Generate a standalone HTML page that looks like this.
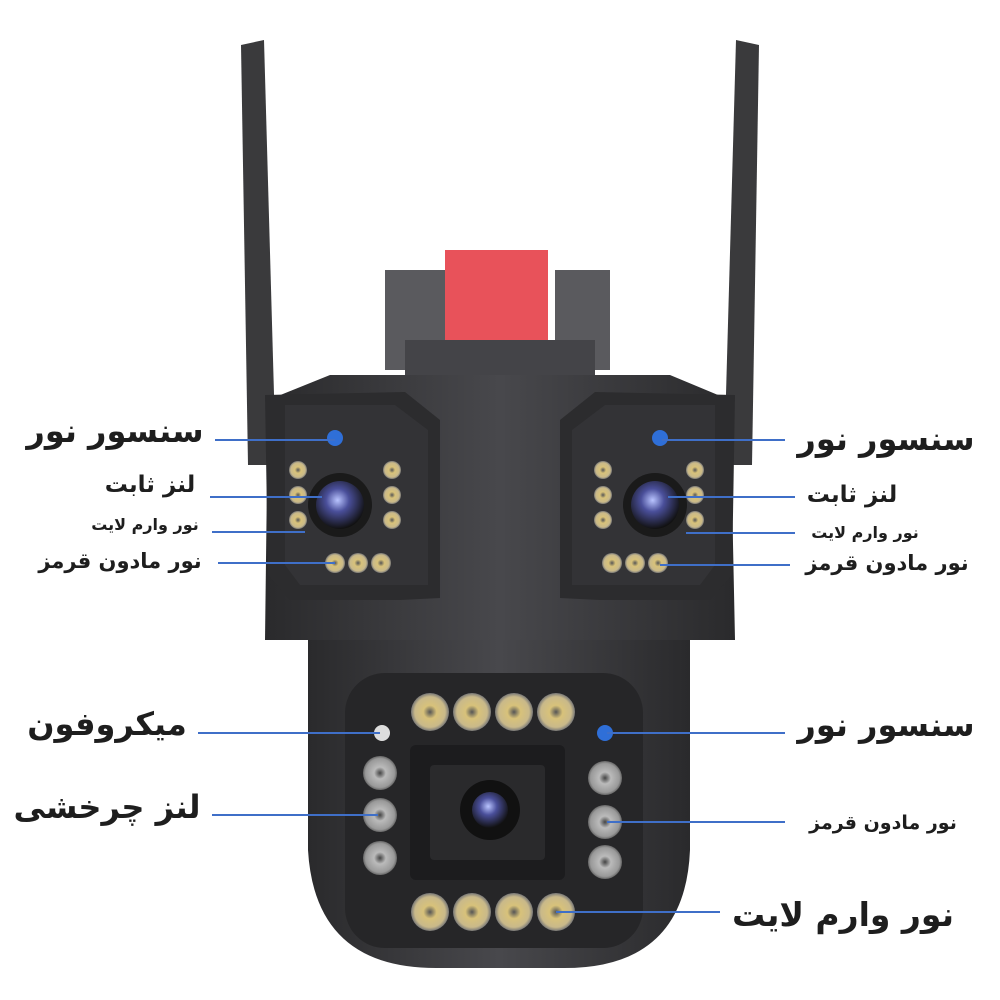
<!DOCTYPE html>
<html><head><meta charset="utf-8"><style>
html,body{margin:0;padding:0;background:#fff;width:1000px;height:1000px;overflow:hidden}
svg{display:block}
text{font-family:"DejaVu Sans","Liberation Sans",sans-serif;font-weight:bold;fill:#1e1e1e}
</style></head><body>
<svg width="1000" height="1000" viewBox="0 0 1000 1000" xmlns="http://www.w3.org/2000/svg">
<defs>
<radialGradient id="lens" cx="45%" cy="40%" r="60%"><stop offset="0" stop-color="#b9c4ff"/><stop offset="0.4" stop-color="#4a4f9a"/><stop offset="1" stop-color="#111"/></radialGradient>
<radialGradient id="yl" cx="50%" cy="50%" r="50%"><stop offset="0" stop-color="#555"/><stop offset="0.35" stop-color="#d8c27a"/><stop offset="0.8" stop-color="#c9b98a"/><stop offset="1" stop-color="#777"/></radialGradient>
<radialGradient id="gl" cx="50%" cy="50%" r="50%"><stop offset="0" stop-color="#444"/><stop offset="0.35" stop-color="#bbb"/><stop offset="0.85" stop-color="#999"/><stop offset="1" stop-color="#666"/></radialGradient>
<linearGradient id="body" x1="0" x2="1"><stop offset="0" stop-color="#2a2a2c"/><stop offset="0.5" stop-color="#48484c"/><stop offset="1" stop-color="#2a2a2c"/></linearGradient>
</defs>
<!-- antennas -->
<polygon points="241,45 264,40 276,465 248,465" fill="#3a3a3c"/>
<polygon points="736,40 759,45 752,465 724,465" fill="#3a3a3c"/>
<!-- brackets -->
<rect x="385" y="270" width="60" height="100" fill="#5a5a5e"/>
<rect x="555" y="270" width="55" height="100" fill="#5a5a5e"/>
<rect x="445" y="250" width="103" height="110" fill="#e8525a"/>
<rect x="405" y="340" width="190" height="40" fill="#444448"/>
<!-- upper housing -->
<polygon points="330,375 670,375 730,400 735,640 265,640 268,400" fill="url(#body)"/>
<polygon points="265,395 405,392 440,420 440,598 400,600 290,600 268,575" fill="#2c2c2e"/>
<polygon points="595,392 735,395 732,575 710,600 600,600 560,598 560,420" fill="#2c2c2e"/>
<polygon points="285,405 395,405 428,430 428,585 300,585 285,565" fill="#333336"/>
<polygon points="605,405 715,405 715,565 700,585 572,585 572,430" fill="#333336"/>
<circle cx="340" cy="505" r="32" fill="#1a1a1a"/><circle cx="340" cy="505" r="24" fill="url(#lens)"/>
<circle cx="335" cy="438" r="8" fill="#2f6fd8"/>
<circle cx="660" cy="438" r="8" fill="#2f6fd8"/>
<circle cx="655" cy="505" r="32" fill="#1a1a1a"/><circle cx="655" cy="505" r="24" fill="url(#lens)"/>
<g fill="url(#yl)">
<circle cx="298" cy="470" r="9"/><circle cx="298" cy="495" r="9"/><circle cx="298" cy="520" r="9"/>
<circle cx="392" cy="470" r="9"/><circle cx="392" cy="495" r="9"/><circle cx="392" cy="520" r="9"/>
<circle cx="335" cy="563" r="10"/><circle cx="358" cy="563" r="10"/><circle cx="381" cy="563" r="10"/>
<circle cx="603" cy="470" r="9"/><circle cx="603" cy="495" r="9"/><circle cx="603" cy="520" r="9"/>
<circle cx="695" cy="470" r="9"/><circle cx="695" cy="495" r="9"/><circle cx="695" cy="520" r="9"/>
<circle cx="612" cy="563" r="10"/><circle cx="635" cy="563" r="10"/><circle cx="658" cy="563" r="10"/>
</g>
<!-- lower dome -->
<path d="M308,640 L690,640 L690,850 Q685,970 560,968 L440,968 Q315,970 308,850 Z" fill="url(#body)"/>
<rect x="345" y="673" width="298" height="275" rx="40" fill="#262628"/>
<rect x="410" y="745" width="155" height="135" rx="6" fill="#1c1c1e"/>
<rect x="430" y="765" width="115" height="95" rx="4" fill="#2a2a2c"/>
<circle cx="490" cy="810" r="30" fill="#111"/><circle cx="490" cy="810" r="18" fill="url(#lens)"/>
<g fill="url(#yl)">
<circle cx="430" cy="712" r="19"/><circle cx="472" cy="712" r="19"/><circle cx="514" cy="712" r="19"/><circle cx="556" cy="712" r="19"/>
<circle cx="430" cy="912" r="19"/><circle cx="472" cy="912" r="19"/><circle cx="514" cy="912" r="19"/><circle cx="556" cy="912" r="19"/>
</g>
<g fill="url(#gl)">
<circle cx="380" cy="773" r="17"/><circle cx="380" cy="815" r="17"/><circle cx="380" cy="858" r="17"/>
<circle cx="605" cy="778" r="17"/><circle cx="605" cy="822" r="17"/><circle cx="605" cy="862" r="17"/>
</g>
<circle cx="382" cy="733" r="8" fill="#ddd"/>
<circle cx="605" cy="733" r="8" fill="#2f6fd8"/>
<g stroke="#3f6fc8" stroke-width="2">
<line x1="215" y1="440" x2="335" y2="440"/>
<line x1="210" y1="497" x2="322" y2="497"/>
<line x1="212" y1="532" x2="305" y2="532"/>
<line x1="218" y1="563" x2="335" y2="563"/>
<line x1="198" y1="733" x2="380" y2="733"/>
<line x1="212" y1="815" x2="378" y2="815"/>
<line x1="662" y1="440" x2="785" y2="440"/>
<line x1="668" y1="497" x2="795" y2="497"/>
<line x1="686" y1="533" x2="795" y2="533"/>
<line x1="660" y1="565" x2="790" y2="565"/>
<line x1="607" y1="733" x2="785" y2="733"/>
<line x1="607" y1="822" x2="785" y2="822"/>
<line x1="556" y1="912" x2="720" y2="912"/>
</g>
<g text-anchor="middle">
<text x="115" y="442" font-size="32" direction="rtl">سنسور نور</text>
<text x="150" y="492" font-size="23" direction="rtl">لنز ثابت</text>
<text x="145" y="530" font-size="16" direction="rtl">نور وارم لایت</text>
<text x="120" y="568" font-size="21" direction="rtl">نور مادون قرمز</text>
<text x="107" y="735" font-size="32" direction="rtl">میکروفون</text>
<text x="107" y="818" font-size="32" direction="rtl">لنز چرخشی</text>
<text x="886" y="450" font-size="32" direction="rtl">سنسور نور</text>
<text x="852" y="502" font-size="23" direction="rtl">لنز ثابت</text>
<text x="865" y="538" font-size="16" direction="rtl">نور وارم لایت</text>
<text x="887" y="570" font-size="21" direction="rtl">نور مادون قرمز</text>
<text x="886" y="736" font-size="32" direction="rtl">سنسور نور</text>
<text x="883" y="829" font-size="19" direction="rtl">نور مادون قرمز</text>
<text x="843" y="926" font-size="33" direction="rtl">نور وارم لایت</text>
</g>
</svg>
</body></html>
